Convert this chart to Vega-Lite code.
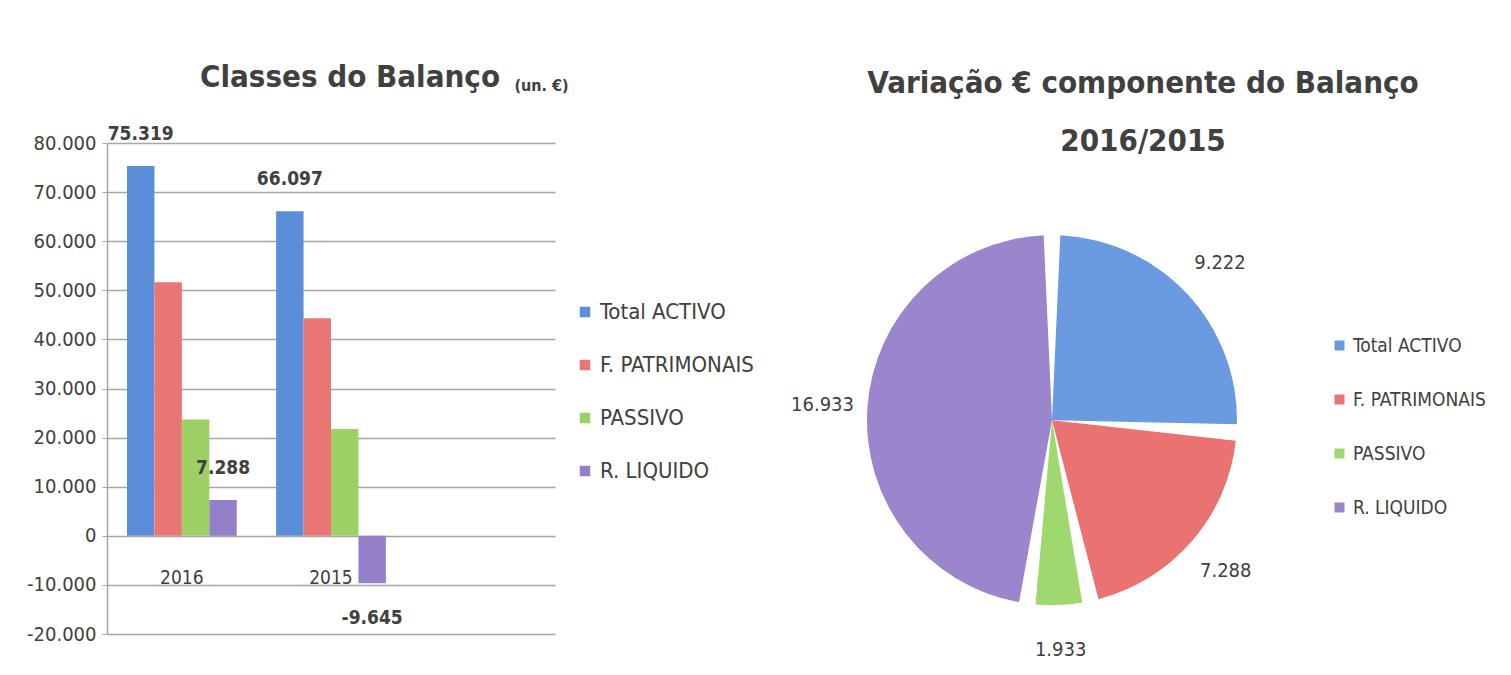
{
  "$schema": "https://vega.github.io/schema/vega-lite/v6.json",
  "padding": {"left": 26, "top": 62, "right": 0, "bottom": 0},
  "background": "white",
  "datasets": {
    "barras": [
      {"ano": "2016", "serie": "Total ACTIVO", "valor": 75319, "rotulo": "pos"},
      {"ano": "2016", "serie": "F. PATRIMONAIS", "valor": 51619, "rotulo": ""},
      {"ano": "2016", "serie": "PASSIVO", "valor": 23700, "rotulo": ""},
      {"ano": "2016", "serie": "R. LIQUIDO", "valor": 7288, "rotulo": "pos"},
      {"ano": "2015", "serie": "Total ACTIVO", "valor": 66097, "rotulo": "pos"},
      {"ano": "2015", "serie": "F. PATRIMONAIS", "valor": 44331, "rotulo": ""},
      {"ano": "2015", "serie": "PASSIVO", "valor": 21767, "rotulo": ""},
      {"ano": "2015", "serie": "R. LIQUIDO", "valor": -9645, "rotulo": "neg"}
    ],
    "variacao": [
      {"serie": "Total ACTIVO", "valor": 9222, "ordem": 1},
      {"serie": "F. PATRIMONAIS", "valor": 7288, "ordem": 2},
      {"serie": "PASSIVO", "valor": 1933, "ordem": 3},
      {"serie": "R. LIQUIDO", "valor": 16933, "ordem": 4}
    ]
  },
  "spacing": 18,
  "resolve": {"scale": {"color": "independent", "y": "independent", "x": "independent"}, "legend": {"color": "independent"}},
  "hconcat": [
    {
      "width": 448,
      "height": 491,
      "title": {
        "text": "Classes do Balanço",
        "fontSize": 31,
        "dx": 19,
        "offset": -17
      },
      "data": {"name": "barras"},
      "layer": [
        {
          "mark": {"type": "bar"},
          "encoding": {
            "x": {
              "field": "ano", "type": "nominal",
              "scale": {"domain": ["2016", "2015", " "], "paddingInner": 0.264, "paddingOuter": 0.134},
              "axis": {"orient": "bottom", "offset": -66, "domain": false, "ticks": false, "grid": false, "labelPadding": 0, "labelFontSize": 19, "labelAngle": 0, "title": null}
            },
            "xOffset": {
              "field": "serie", "type": "nominal",
              "scale": {"domain": ["Total ACTIVO", "F. PATRIMONAIS", "PASSIVO", "R. LIQUIDO"], "paddingInner": 0, "paddingOuter": 0}
            },
            "y": {
              "field": "valor", "type": "quantitative",
              "scale": {"domain": [-20000, 80000], "nice": false},
              "axis": {
                "values": [-20000, -10000, 0, 10000, 20000, 30000, 40000, 50000, 60000, 70000, 80000],
                "format": ",d", "labelFontSize": 20, "labelPadding": 6,
                "grid": true, "gridColor": "#a6a6a6", "gridWidth": 1.5,
                "domainColor": "#a6a6a6", "domainWidth": 1.5, "tickColor": "#a6a6a6", "tickSize": 5,
                "title": "(un. €)", "titleAngle": 0, "titleX": 434, "titleY": -58, "titleAlign": "center", "titleBaseline": "middle",
                "titleFontSize": 16, "titleFontWeight": "bold", "titleColor": "#404040"
              }
            },
            "color": {
              "field": "serie", "type": "nominal",
              "scale": {"domain": ["Total ACTIVO", "F. PATRIMONAIS", "PASSIVO", "R. LIQUIDO"], "range": ["#5b8ed9", "#e87675", "#9ccf64", "#9480c8"]},
              "legend": {"orient": "none", "legendX": 467, "legendY": 158, "title": null, "labelFontSize": 22, "symbolType": "square", "symbolSize": 110, "symbolStrokeWidth": 0, "rowPadding": 31, "labelOffset": 4}
            }
          }
        },
        {
          "transform": [{"filter": "datum.rotulo == 'pos'"}],
          "mark": {"type": "text", "fontWeight": "bold", "fontSize": 19, "color": "#404040", "dy": -32},
          "encoding": {
            "x": {"field": "ano", "type": "nominal"},
            "xOffset": {"field": "serie", "type": "nominal"},
            "y": {"field": "valor", "type": "quantitative"},
            "text": {"field": "valor", "type": "quantitative", "format": ",d"}
          }
        },
        {
          "transform": [{"filter": "datum.rotulo == 'neg'"}],
          "mark": {"type": "text", "fontWeight": "bold", "fontSize": 19, "color": "#404040", "dy": 35},
          "encoding": {
            "x": {"field": "ano", "type": "nominal"},
            "xOffset": {"field": "serie", "type": "nominal"},
            "y": {"field": "valor", "type": "quantitative"},
            "text": {"field": "valor", "type": "quantitative", "format": ",d"}
          }
        }
      ]
    },
    {
      "width": 560,
      "height": 520,
      "title": {
        "text": ["Variação € componente do Balanço", "2016/2015"],
        "fontSize": 31,
        "lineHeight": 58,
        "dx": 91,
        "offset": -15
      },
      "data": {"name": "variacao"},
      "layer": [
        {
          "mark": {"type": "arc", "outerRadius": 185, "padAngle": 0.09},
          "encoding": {
            "y": {"datum": 0.467, "type": "quantitative", "scale": {"domain": [0, 1], "nice": false}, "axis": null},
            "theta": {"field": "valor", "type": "quantitative", "stack": true},
            "order": {"field": "ordem", "type": "quantitative"},
            "color": {
              "field": "serie", "type": "nominal",
              "scale": {"domain": ["Total ACTIVO", "F. PATRIMONAIS", "PASSIVO", "R. LIQUIDO"], "range": ["#6a9be0", "#ea7270", "#a0d870", "#9b85cc"]},
              "legend": {"orient": "none", "legendX": 558, "legendY": 193, "title": null, "labelFontSize": 19, "symbolType": "square", "symbolSize": 100, "symbolStrokeWidth": 0, "rowPadding": 34, "labelOffset": 4}
            }
          }
        },
        {
          "mark": {"type": "text", "radius": 230, "fontSize": 20, "color": "#404040"},
          "encoding": {
            "y": {"datum": 0.467, "type": "quantitative"},
            "theta": {"field": "valor", "type": "quantitative", "stack": true},
            "order": {"field": "ordem", "type": "quantitative"},
            "text": {"field": "valor", "type": "quantitative", "format": ",d"}
          }
        }
      ]
    }
  ],
  "config": {
    "font": "DejaVu Sans Condensed, DejaVu Sans, sans-serif",
    "view": {"stroke": null},
    "locale": {"number": {"decimal": ",", "thousands": ".", "grouping": [3], "currency": ["", " €"], "minus": "-"}},
    "axis": {"labelColor": "#404040", "labelFont": "DejaVu Sans Condensed, DejaVu Sans, sans-serif", "titleFont": "DejaVu Sans Condensed, DejaVu Sans, sans-serif"},
    "legend": {"labelColor": "#404040", "labelFont": "DejaVu Sans Condensed, DejaVu Sans, sans-serif"},
    "title": {"color": "#404040", "fontWeight": "bold", "font": "DejaVu Sans Condensed, DejaVu Sans, sans-serif", "anchor": "middle"},
    "text": {"font": "DejaVu Sans Condensed, DejaVu Sans, sans-serif"}
  }
}
